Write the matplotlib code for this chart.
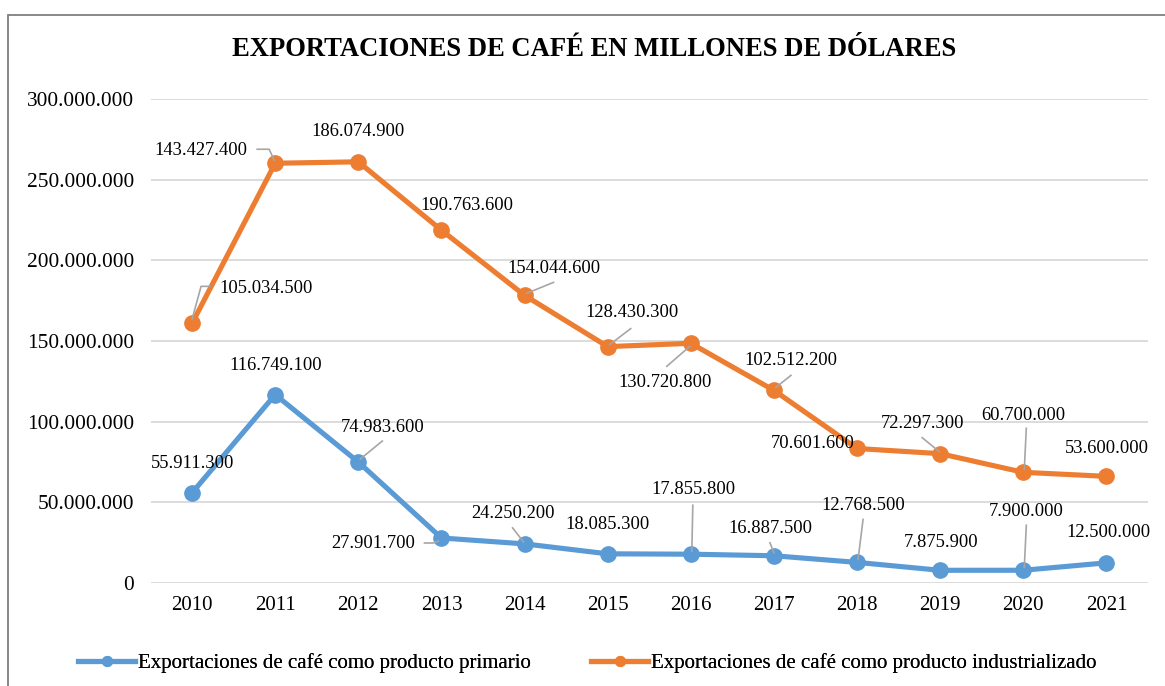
import matplotlib
matplotlib.use("Agg")
import matplotlib.pyplot as plt
from matplotlib.lines import Line2D
from matplotlib.patches import Rectangle
import numpy as np

years = ["2010", "2011", "2012", "2013", "2014", "2015", "2016", "2017", "2018", "2019", "2020", "2021"]
primario = [55911300, 116749100, 74983600, 27901700, 24250200, 18085300,
            17855800, 16887500, 12768500, 7875900, 7900000, 12500000]
industrializado = [105034500, 143427400, 186074900, 190763600, 154044600, 128430300,
                   130720800, 102512200, 70601600, 72297300, 60700000, 53600000]
yticks = [0, 50000000, 100000000, 150000000, 200000000, 250000000, 300000000]
title = "EXPORTACIONES DE CAFÉ EN MILLONES DE DÓLARES"
labels = ["Exportaciones de café como producto primario",
          "Exportaciones de café como producto industrializado"]

# label offsets in pixels (dx right, dy down) relative to the marker
off_p = [(0, -29), (0, -29), (24, -35), (-68, 6), (-12, -30), (0, -29),
         (3, -65), (-4, -27), (6, -57), (1, -28), (3, -59), (2, -30)]
off_i = [(74, -35), (-74, -13), (0, -30), (25, -25), (29, -27), (24, -34),
         (-26, 39), (17, -30), (-44, -5), (-18, -30), (0, -57), (0, -28)]
# leader lines: list of vertices (pixel offsets from marker)
lead_p = {2: [(24, -21), (2, -3)], 3: [(-17, 5), (-8, 5), (-3, 3)],
          4: [(-12, -16), (-1, -2)], 6: [(2, -49), (1, -3)],
          7: [(-4, -13), (0, -3)], 8: [(6, -43), (1, -3)], 10: [(3, -45), (1, -3)]}
lead_i = {0: [(18, -37), (9, -37), (0, -4)], 1: [(-18, -14), (-6, -14), (-1, -3)],
          4: [(29, -13), (2, -2)], 5: [(23, -18), (2, -2)],
          6: [(-24, 23), (-1, 3)], 7: [(17, -15), (2, -3)],
          9: [(-18, -16), (-1, -2)], 10: [(3, -44), (1, -3)]}

plt.rcParams['font.family'] = ['Liberation Serif', 'DejaVu Serif']
W, H = 1165, 686
fig = plt.figure(figsize=(W / 100, H / 100), dpi=100)
fig.patch.set_facecolor("white")

ax = fig.add_axes([150.5 / W, 1 - 583 / H, 997.5 / W, (583 - 99) / H])
x = np.arange(len(years))
stack = np.array(primario) + np.array(industrializado)
blue, orange = "#5b9bd5", "#ed7d31"
ax.plot(x, primario, color=blue, lw=3.7, marker="o", ms=11, zorder=3)
ax.plot(x, stack, color=orange, lw=3.7, marker="o", ms=11, zorder=3)

ax.set_xlim(-0.5, len(years) - 0.5)
ax.set_ylim(0, 300000000)
ax.set_yticks(yticks)
ax.set_yticklabels([f"{v:,}".replace(",", ".") for v in yticks], fontsize=15.4)
ax.set_xticks(x)
ax.set_xticklabels(years, fontsize=15)
ax.tick_params(length=0, axis="y", pad=12)
ax.tick_params(length=0, axis="x", pad=9)
ax.grid(axis="y", color="#d9d9d9", lw=1.3)
ax.set_axisbelow(True)
for s in ax.spines.values():
    s.set_visible(False)

def fmt(v):
    return f"{v:,}".replace(",", ".")

def draw(vals_plot, vals_lab, offs, leads):
    for i, (yv, lv) in enumerate(zip(vals_plot, vals_lab)):
        dx, dy = offs[i]
        ax.annotate(fmt(lv), xy=(i, yv), xytext=(dx, -dy), textcoords="offset pixels",
                    ha="center", va="center", fontsize=13.3, zorder=5)
        if i in leads:
            px, py = ax.transData.transform((i, yv))
            xs = [px + a for a, b in leads[i]]
            ys = [py - b for a, b in leads[i]]
            fig.add_artist(Line2D(xs, ys, transform=None, color="#a6a6a6", lw=1.2, zorder=4))

draw(primario, primario, off_p, lead_p)
draw(stack, industrializado, off_i, lead_i)

fig.text(594 / W, 1 - 49 / H, title, ha="center", va="center", fontsize=19.2, fontweight="bold")

for col, lab, xpx in [(blue, labels[0], 78), (orange, labels[1], 591)]:
    h = Line2D([], [], color=col, lw=3.7, marker="o", ms=7)
    leg = fig.legend([h], [lab], loc="center left", bbox_to_anchor=(xpx / W, 1 - 663 / H),
                     frameon=False, fontsize=15.0, handlelength=2.75, handletextpad=0.15,
                     borderpad=0, borderaxespad=0)
    fig.add_artist(leg)

fig.add_artist(Rectangle((8 / W, -0.1), 1.2, 1 - 15 / H + 0.1, transform=fig.transFigure,
                         fill=False, edgecolor="#7f7f7f", lw=1.3))

fig.savefig("out.png", dpi=100)
